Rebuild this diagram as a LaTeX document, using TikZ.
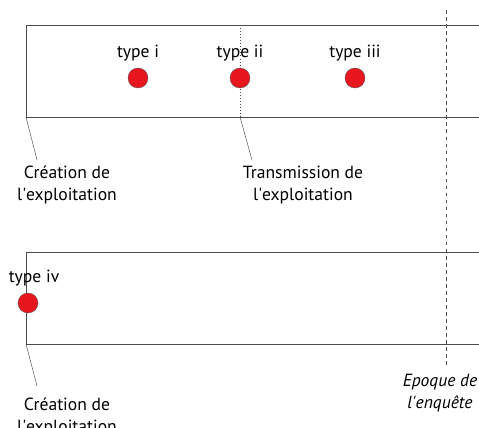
\documentclass[tikz,border=0pt]{standalone}
\usepackage{fontspec}
\setmainfont{PT Sans}
\usetikzlibrary{positioning}

\definecolor{rouge}{RGB}{232,22,30}
\tikzset{
  ligne/.style={black!70, line width=0.6pt},
  point/.style={circle, fill=rouge, draw=black!70, line width=0.3pt, minimum size=0.6cm, inner sep=0pt},
  etiq/.style={font=\fontsize{15}{18.5}\selectfont, align=center, inner sep=0pt}
}

\begin{document}
\begin{tikzpicture}[x=0.03cm,y=-0.03cm]
\useasboundingbox (0,0) rectangle (479,428);
\coordinate (A1) at (26,25);
\coordinate (B1) at (26,117);
\coordinate (A2) at (26,252);
\coordinate (B2) at (26,344);
\coordinate (T) at (240,117);

% periodes
\draw[ligne] (479,25) -- (A1) -- (B1) -- (479,117);
\draw[ligne] (479,252) -- (A2) -- (B2) -- (479,344);
\draw[ligne, dotted] (240,25) -- (T);
\draw[ligne, dashed] (446,10) -- (446,367);

\node (p1) at (138,78) [point] {};
\node (p2) at (240,78) [point] {};
\node (p3) at (355,78) [point] {};
\node (p4) at (28,303) [point] {};

\node (t1) [etiq, above=0.2cm of p1] {type i};
\node (t2) [etiq, above=0.2cm of p2] {type ii};
\node (t3) [etiq, above=0.2cm of p3] {type iii};
\node (t4) [etiq, above=0.2cm of p4, xshift=0.18cm] {type iv};

\node (c1) at (67,185) [etiq] {Création de\\l\textquotesingle exploitation};
\node (c2) at (303,185) [etiq] {Transmission de\\l\textquotesingle exploitation};
\node (c3) at (67,417) [etiq] {Création de\\l\textquotesingle exploitation};
\node (e) at (440,393) [etiq, font=\fontsize{15}{18.5}\selectfont\itshape] {Epoque de\\l\textquotesingle enquête};

\draw[ligne, line width=0.4pt] (B1) -- (37,160);
\draw[ligne, line width=0.4pt] (T) -- (252,160);
\draw[ligne, line width=0.4pt] (B2) -- (37,386);

\end{tikzpicture}
\end{document}
